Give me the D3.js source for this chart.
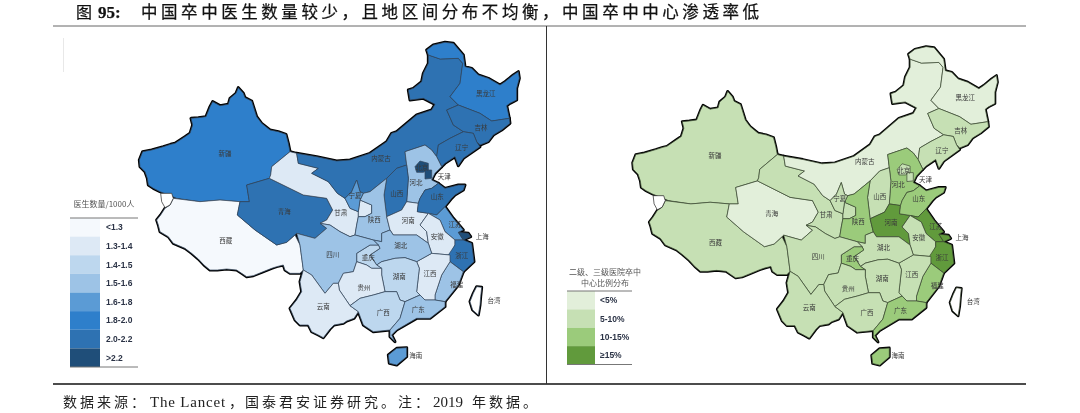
<!DOCTYPE html>
<html>
<head>
<meta charset="utf-8">
<script src="https://cdn.jsdelivr.net/npm/d3@7"></script>
<style>
html,body{margin:0;padding:0;background:#fff;}
svg{display:block;filter:blur(0.35px);}
</style>
</head>
<body>
<svg id="app" width="1080" height="413"></svg>
<script>
// values per province, index into the legend bands
var provinces = ['新疆','西藏','青海','甘肃','内蒙古','黑龙江','吉林','辽宁','河北','北京','天津','山西','陕西','宁夏','河南','山东','江苏','上海','安徽','浙江','福建','江西','湖北','湖南','重庆','四川','贵州','云南','广西','广东','海南','台湾'];
var doctorBand = [5,0,6,1,6,5,6,6,3,7,7,6,3,4,1,6,4,7,1,6,3,1,3,2,2,3,1,1,2,3,4,-1];
var centerBand = [1,1,0,1,0,0,1,1,2,1,1,1,2,1,3,2,3,3,1,3,2,1,1,1,2,1,1,1,1,2,2,-1];

var doctorLabels = ['<1.3','1.3-1.4','1.4-1.5','1.5-1.6','1.6-1.8','1.8-2.0','2.0-2.2','>2.2'];
var doctorColors = ['#f5f9fd','#dde9f5','#bdd7ee','#9dc3e6','#5b9bd5','#2e7fcb','#2e72b2','#1f4e79'];
var centerLabels = ['<5%','5-10%','10-15%','≥15%'];
var centerColors = ['#e2efda','#c6e0b4','#9bcb7b','#619a3c'];

// province outlines, in map units
var outlines = {
'新疆':[[28,375],[38,350],[65,345],[100,335],[122,328],[135,325],[165,305],[180,295],[188,270],[183,250],[205,248],[228,245],[240,215],[248,200],[270,212],[295,208],[300,190],[318,175],[325,158],[340,175],[345,188],[365,198],[380,245],[395,265],[420,285],[445,290],[468,298],[475,325],[480,350],[425,395],[422,420],[418,430],[350,450],[358,500],[330,500],[270,495],[210,500],[140,490],[90,470],[70,460],[55,450],[52,430],[45,410],[30,395]],
'西藏':[[130,490],[210,500],[270,495],[330,500],[322,540],[375,585],[440,630],[470,622],[495,600],[510,630],[520,705],[510,715],[480,715],[465,705],[460,690],[440,695],[425,700],[395,712],[370,722],[350,725],[335,715],[320,705],[290,702],[262,705],[240,705],[222,690],[205,672],[185,655],[165,640],[130,625],[115,605],[90,590],[85,570],[80,555],[92,540],[105,520],[120,510]],
'青海':[[350,450],[418,430],[520,480],[590,490],[608,525],[590,555],[570,565],[590,580],[555,610],[500,595],[470,622],[440,630],[375,585],[322,540],[330,500],[358,500]],
'甘肃':[[480,350],[500,355],[505,385],[565,400],[545,415],[595,440],[622,475],[645,490],[660,520],[685,530],[685,545],[680,570],[675,600],[660,605],[630,590],[600,570],[570,565],[590,555],[608,525],[590,490],[520,480],[418,430],[422,420],[425,395]],
'甘肃东':[[690,495],[725,510],[725,535],[705,545],[685,545],[685,530]],
'内蒙古':[[500,355],[560,365],[620,378],[660,375],[720,355],[770,320],[785,295],[800,290],[860,240],[905,225],[915,208],[880,190],[840,195],[835,165],[850,160],[875,140],[880,115],[895,85],[895,60],[930,72],[985,70],[998,85],[990,145],[960,185],[985,210],[950,225],[970,270],[1000,290],[960,310],[925,330],[920,365],[905,345],[885,330],[870,335],[825,350],[830,390],[800,400],[770,430],[720,470],[700,475],[690,470],[680,435],[665,470],[645,490],[622,475],[595,440],[545,415],[565,400],[505,385]],
'黑龙江':[[895,60],[890,45],[910,30],[945,22],[970,25],[1000,60],[1005,95],[1025,100],[1045,120],[1075,130],[1110,150],[1125,140],[1150,120],[1165,110],[1168,130],[1160,160],[1160,195],[1140,205],[1130,212],[1138,250],[1085,258],[1050,235],[985,210],[960,185],[990,145],[998,85],[985,70],[930,72]],
'吉林':[[950,225],[985,210],[1050,235],[1085,258],[1138,250],[1140,265],[1115,285],[1090,300],[1075,320],[1050,330],[1040,320],[1030,295],[1000,290],[970,270]],
'辽宁':[[1000,290],[1030,295],[1040,320],[1050,335],[1000,370],[985,392],[975,365],[945,385],[935,395],[920,365],[925,330],[960,310]],
'河北':[[825,350],[870,335],[885,330],[905,345],[920,365],[935,395],[915,415],[905,435],[925,445],[905,460],[885,465],[870,490],[865,505],[830,500],[835,430],[830,390]],
'北京':[[855,395],[870,378],[895,385],[895,405],[880,412],[860,412]],
'天津':[[885,405],[905,405],[905,430],[885,432]],
'山西':[[770,430],[800,400],[830,390],[835,430],[830,500],[815,525],[770,545],[762,480]],
'陕西':[[770,430],[762,480],[770,545],[780,585],[755,595],[755,620],[730,615],[675,600],[680,570],[685,545],[705,545],[725,535],[725,510],[690,495],[700,475],[720,470]],
'宁夏':[[680,435],[690,470],[700,475],[690,495],[685,530],[660,520],[645,490],[665,470]],
'河南':[[770,545],[815,525],[830,500],[865,505],[862,530],[895,535],[870,570],[890,590],[895,625],[860,600],[790,600],[780,585]],
'山东':[[865,505],[870,490],[885,465],[905,460],[925,445],[945,460],[965,455],[985,450],[1005,450],[1000,465],[975,480],[965,490],[945,515],[920,540],[895,535],[862,530]],
'江苏':[[895,535],[920,540],[945,515],[970,550],[1000,585],[985,592],[1000,615],[975,615],[945,590],[930,555]],
'上海':[[985,592],[1015,595],[1022,605],[1000,615]],
'安徽':[[895,535],[930,555],[945,590],[975,615],[975,630],[960,660],[905,655],[895,625],[890,590],[870,570]],
'浙江':[[975,615],[1000,615],[1025,625],[1032,680],[1000,710],[960,680],[955,660],[975,630]],
'福建':[[960,680],[1000,710],[985,750],[945,800],[915,795],[915,780],[935,720]],
'江西':[[905,655],[960,660],[960,680],[935,720],[915,780],[915,795],[885,795],[870,780],[860,770],[868,700],[860,680]],
'湖北':[[755,595],[780,585],[790,600],[860,600],[895,625],[905,655],[860,680],[825,668],[795,670],[755,680],[740,690],[720,660],[750,640],[745,630],[730,615],[755,620]],
'湖南':[[755,680],[795,670],[825,668],[860,680],[868,700],[860,770],[870,780],[825,800],[810,795],[800,770],[765,770],[755,720],[755,700],[740,690]],
'重庆':[[680,655],[720,630],[745,630],[750,640],[720,660],[740,690],[755,700],[725,700],[710,690],[680,680]],
'四川':[[500,595],[555,610],[590,580],[570,565],[600,570],[630,590],[660,605],[675,600],[730,615],[745,630],[720,630],[680,655],[680,680],[670,710],[640,715],[625,745],[610,745],[585,775],[545,720],[520,705],[510,630]],
'贵州':[[625,745],[640,715],[670,710],[680,680],[710,690],[725,700],[755,700],[755,720],[765,770],[730,780],[690,790],[660,812],[645,790],[628,765]],
'云南':[[520,705],[545,720],[585,775],[610,745],[625,745],[628,765],[645,790],[660,812],[685,830],[672,850],[650,858],[640,865],[612,870],[600,882],[580,908],[565,900],[545,890],[535,870],[510,870],[495,855],[480,820],[500,795],[515,770],[510,740]],
'广西':[[660,812],[690,790],[730,780],[765,770],[800,770],[810,795],[825,800],[810,850],[780,885],[730,890],[700,870],[685,830]],
'广东':[[825,800],[870,780],[885,795],[915,795],[945,800],[945,815],[900,850],[860,850],[800,885],[785,900],[795,920],[780,905],[780,885],[810,850]],
'海南':[[775,960],[800,940],[830,938],[830,965],[800,990],[778,985]],
'台湾':[[1040,755],[1055,757],[1052,785],[1050,810],[1045,840],[1028,825],[1020,800],[1030,775]]
};
var gapOutline = [[92,475],[125,475],[130,490],[120,510],[105,518],[95,500]];
var labelAt = {'新疆':[285,355],'西藏':[287,618],'青海':[463,530],'甘肃':[632,532],'内蒙古':[753,372],'黑龙江':[1067,176],'吉林':[1053,277],'辽宁':[995,337],'北京':[875,398],'天津':[943,425],'河北':[858,443],'山西':[800,477],'宁夏':[675,483],'陕西':[733,553],'河南':[835,557],'山东':[922,485],'江苏':[975,568],'上海':[1057,604],'安徽':[922,604],'浙江':[995,663],'福建':[980,750],'江西':[900,716],'湖北':[812,632],'湖南':[808,726],'重庆':[715,667],'四川':[608,660],'贵州':[702,757],'云南':[580,815],'广西':[760,832],'广东':[865,824],'海南':[857,962],'台湾':[1092,796]};

var svg = d3.select('#app');
var cjk = '"Noto Sans CJK SC"';
var serif = '"Liberation Serif"';

function drawMap(xRange,yRange,bands,colors,inner,outer){
  var x = d3.scaleLinear().domain([0,1200]).range(xRange);
  var y = d3.scaleLinear().domain([0,1020]).range(yRange);
  var line = d3.line().x(function(d){return x(d[0]);}).y(function(d){return y(d[1]);});
  var g = svg.append('g');
  var names = Object.keys(outlines);
  // thick pass first, the fills on top only leave it showing on the coast
  g.selectAll('path.edge').data(names).enter().append('path').attr('class','edge')
    .attr('d',function(d){return line(outlines[d])+'Z';})
    .attr('fill','#000').attr('stroke','#000').attr('stroke-width',outer).attr('stroke-linejoin','round');
  g.selectAll('path.prov').data(names).enter().append('path').attr('class','prov')
    .attr('d',function(d){return line(outlines[d])+'Z';})
    .attr('fill',function(d){
      var i = provinces.indexOf(d==='甘肃东'?'甘肃':d);
      return bands[i]<0 ? '#fff' : colors[bands[i]];
    })
    .attr('stroke',inner).attr('stroke-width',0.7).attr('stroke-linejoin','round');
  g.append('path').attr('d',line(gapOutline)+'Z').attr('fill','#fff').attr('stroke','#222').attr('stroke-width',0.7);
  g.selectAll('text').data(provinces).enter().append('text')
    .attr('x',function(d){return x(labelAt[d][0]);})
    .attr('y',function(d){return y(labelAt[d][1]);})
    .attr('dy','0.35em').attr('text-anchor','middle')
    .attr('font-family',cjk).attr('font-size',6.5).attr('fill','#3a3a3a')
    .text(function(d){return d;});
}

function drawLegend(labels,colors,left,right,swatchRight,top,bottom,labelX){
  var y = d3.scaleBand().domain(labels).range([top,bottom]);
  var g = svg.append('g');
  g.selectAll('rect').data(labels).enter().append('rect')
    .attr('x',left).attr('y',function(d){return y(d);})
    .attr('width',swatchRight-left).attr('height',y.bandwidth())
    .attr('fill',function(d,i){return colors[i];});
  g.selectAll('text').data(labels).enter().append('text')
    .attr('x',labelX).attr('y',function(d){return y(d)+y.bandwidth()/2;})
    .attr('dy','0.35em').attr('font-family','"Liberation Sans"').attr('font-weight','bold')
    .attr('font-size',8.5).attr('fill','#2b3346').text(function(d){return d;});
  [top,bottom].forEach(function(v){
    g.append('line').attr('x1',left).attr('x2',right).attr('y1',v).attr('y2',v)
      .attr('stroke','#777').attr('stroke-width',1);
  });
}

drawMap([130,530],[35,375],doctorBand,doctorColors,'#33465c',3);
drawMap([623.7,1007.7],[39.4,375],centerBand,centerColors,'#3c4a34',2.8);

drawLegend(doctorLabels,doctorColors,70,138,100,218,367,106);
drawLegend(centerLabels,centerColors,567,632,595,291,364.5,600);

svg.append('text').attr('x',104).attr('y',207).attr('text-anchor','middle')
  .attr('font-family',cjk).attr('font-size',8).attr('fill','#555').text('医生数量/1000人');
svg.append('text').attr('x',605).attr('y',272).attr('dy','0.35em').attr('text-anchor','middle')
  .attr('font-family',cjk).attr('font-size',8).attr('fill','#555').text('二级、三级医院卒中');
svg.append('text').attr('x',605).attr('y',283).attr('dy','0.35em').attr('text-anchor','middle')
  .attr('font-family',cjk).attr('font-size',8).attr('fill','#555').text('中心比例分布');

// frame
svg.append('line').attr('x1',53).attr('x2',1026).attr('y1',26).attr('y2',26).attr('stroke','#666').attr('stroke-width',1);
svg.append('line').attr('x1',53).attr('x2',1026).attr('y1',384).attr('y2',384).attr('stroke','#111').attr('stroke-width',1.4);
svg.append('line').attr('x1',546.5).attr('x2',546.5).attr('y1',26).attr('y2',384).attr('stroke','#333').attr('stroke-width',1);
svg.append('line').attr('x1',63.5).attr('x2',63.5).attr('y1',38).attr('y2',72).attr('stroke','#e8e8e8').attr('stroke-width',1);

// title and source line, \uff0c and \uff1a are the full width comma and colon
var title = svg.append('text').attr('y',18).attr('fill','#111').attr('stroke','#111').attr('stroke-width',0.25);
title.append('tspan').attr('x',76).attr('font-family',cjk).attr('font-size',16).text('图');
title.append('tspan').attr('x',98).attr('font-family',serif).attr('font-weight','bold').attr('font-size',17).text('95:');
title.append('tspan').attr('x',141).attr('font-family',cjk).attr('font-size',16.5).attr('letter-spacing',3.55)
  .text('中国卒中医生数量较少\uff0c且地区间分布不均衡\uff0c中国卒中中心渗透率低');

var source = svg.append('text').attr('y',407).attr('fill','#222').attr('font-size',14);
source.append('tspan').attr('x',63).attr('font-family',cjk).attr('letter-spacing',3).text('数据来源\uff1a');
source.append('tspan').attr('x',150).attr('font-family',serif).attr('font-size',15).attr('letter-spacing',0.8).text('The Lancet');
source.append('tspan').attr('x',229).attr('font-family',cjk).text('\uff0c');
source.append('tspan').attr('x',245).attr('font-family',cjk).attr('letter-spacing',3).text('国泰君安证券研究。注\uff1a');
source.append('tspan').attr('x',433).attr('font-family',serif).attr('font-size',15).text('2019');
source.append('tspan').attr('x',472).attr('font-family',cjk).attr('letter-spacing',3).text('年数据。');
</script>
</body>
</html>
